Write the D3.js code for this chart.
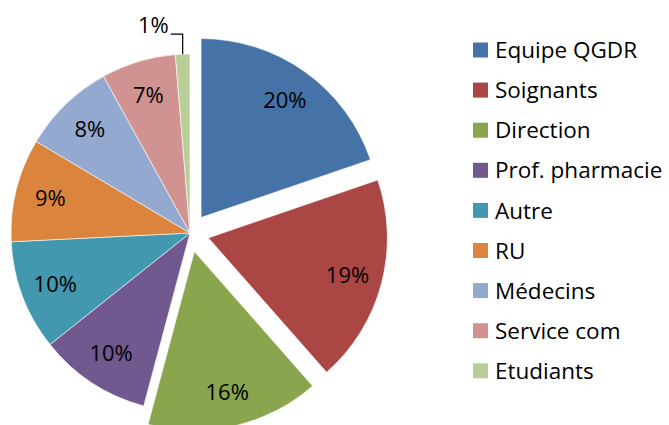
<!DOCTYPE html>
<html>
<head>
<meta charset="utf-8">
<script src="https://cdn.jsdelivr.net/npm/d3@7.9.0/dist/d3.min.js"></script>
<style>
  body { margin: 0; background: #fff; }
  svg text { font-family: "Open Sans", Lato, sans-serif; fill: #000; }
</style>
</head>
<body>
<svg id="chart" width="669" height="425"></svg>
<script>
const categories = ['Equipe QGDR', 'Soignants', 'Direction', 'Prof. pharmacie', 'Autre', 'RU', 'Médecins', 'Service com', 'Etudiants'];
const shares = [19.7, 18.7, 15.6, 10.1, 9.9, 9.3, 8.4, 6.7, 1.3];
const exploded = [true, true, true, false, false, false, false, false, false];
const colors = ['#4572A7', '#AA4643', '#89A54E', '#71588F', '#4198AF', '#DB843D', '#93A9CF', '#D19392', '#B9CD96'];

const svg = d3.select('#chart');
const cx = 190, cy = 233, radius = 179, explodeBy = 19;
const total = d3.sum(shares);

const data = categories.map((c, i) => ({ label: c, value: shares[i], explode: exploded[i] }));

let sliceGenerator = d3.pie().sort(null).value((d) => d.value);
let arcGenerator = d3.arc().innerRadius(0).outerRadius(radius);
let labelArc = d3.arc().innerRadius(144).outerRadius(144);

let arcData = sliceGenerator(data);

// offset of a slice along its bisector
function shift(d) {
    if (!d.data.explode) return [0, 0];
    const mid = (d.startAngle + d.endAngle) / 2;
    return [Math.sin(mid) * explodeBy, -Math.cos(mid) * explodeBy];
}

const pie = svg.append('g').attr('transform', `translate(${cx},${cy})`);

arcData.forEach((d, idx) => {
    const [dx, dy] = shift(d);
    pie.append('path')
        .attr('d', arcGenerator(d))
        .attr('transform', `translate(${dx},${dy})`)
        .attr('fill', colors[idx])
        .attr('stroke', '#fff')
        .attr('stroke-width', 0.6);
});

arcData.forEach((d) => {
    const pct = Math.round(d.value / total * 100) + '%';
    const [dx, dy] = shift(d);
    if (d.value / total < 0.03) {
        // small slice: label outside with a leader line
        const mid = (d.startAngle + d.endAngle) / 2;
        const ex = Math.sin(mid) * radius, ey = -Math.cos(mid) * radius;
        const ky = ey - 20, kx = ex - 12;
        pie.append('path')
            .attr('d', `M${ex},${ey}V${ky}H${kx}`)
            .attr('fill', 'none')
            .attr('stroke', '#000')
            .attr('stroke-width', 1.2);
        pie.append('text')
            .attr('x', kx - 2)
            .attr('y', ky - 1)
            .attr('text-anchor', 'end')
            .attr('font-size', 22)
            .text(pct);
    } else {
        const [lx, ly] = labelArc.centroid(d);
        pie.append('text')
            .attr('x', lx + dx)
            .attr('y', ly + dy)
            .attr('dy', '0.36em')
            .attr('text-anchor', 'middle')
            .attr('font-size', 22)
            .text(pct);
    }
});

const legend = svg.append('g').attr('transform', 'translate(473,50)');
data.forEach((d, idx) => {
    const row = legend.append('g').attr('transform', `translate(0,${idx * 40.1})`);
    row.append('rect')
        .attr('x', 0).attr('y', -7.5)
        .attr('width', 15).attr('height', 15)
        .attr('fill', colors[idx]);
    row.append('text')
        .attr('x', 22).attr('y', 0)
        .attr('dy', '0.36em')
        .attr('font-size', 22.5)
        .text(d.label);
});
</script>
</body>
</html>
